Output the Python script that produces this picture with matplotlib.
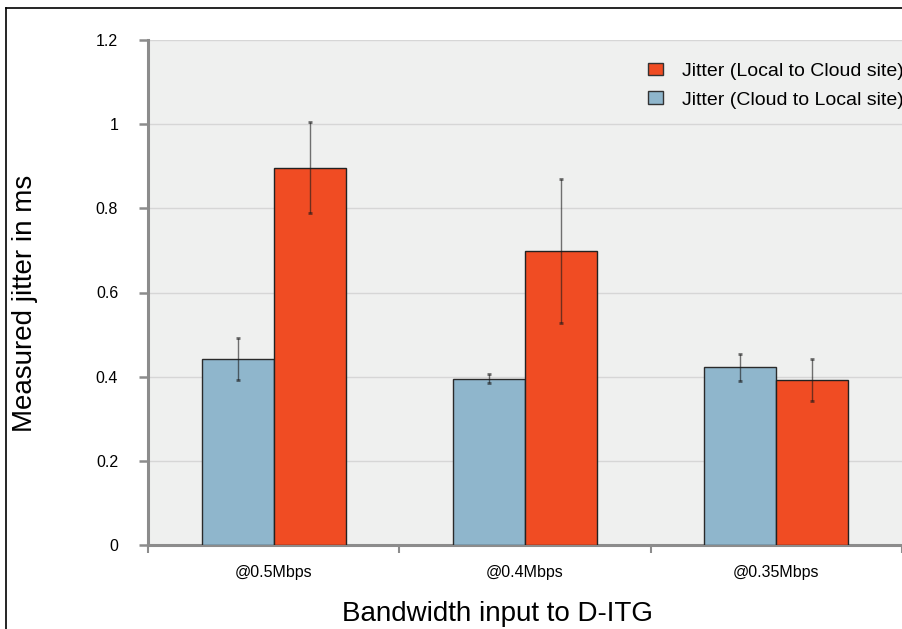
import matplotlib
matplotlib.use("Agg")
import matplotlib.pyplot as plt
from matplotlib.lines import Line2D
import numpy as np

plt.rcParams['font.family'] = ['Liberation Sans', 'DejaVu Sans']

categories = ["@0.5Mbps", "@0.4Mbps", "@0.35Mbps"]
cloud_to_local = [0.442, 0.395, 0.422]
cloud_to_local_err = [0.050, 0.011, 0.032]
local_to_cloud = [0.897, 0.699, 0.393]
local_to_cloud_err = [0.109, 0.171, 0.050]
yticks = [0, 0.2, 0.4, 0.6, 0.8, 1.0, 1.2]
ytick_labels = ["0", "0.2", "0.4", "0.6", "0.8", "1", "1.2"]

W, H = 903, 629
fig = plt.figure(figsize=(W / 100, H / 100), dpi=100)
ax = fig.add_axes([148 / W, (H - 545) / H, (902 - 148) / W, 505 / H])
ax.set_facecolor('#eff0ef')

x = np.arange(len(categories))
w = 0.2865
blue = '#8fb6cc'
red = '#f04c23'
err_kw = dict(ecolor=(0.1, 0.1, 0.1, 0.6), elinewidth=1.0, capsize=1.6, capthick=2.0)
b1 = ax.bar(x - w / 2, cloud_to_local, w, color=blue, edgecolor='#2a2a2a', linewidth=1.0,
            yerr=cloud_to_local_err, error_kw=err_kw, label='Jitter (Cloud to Local site)', zorder=3)
b2 = ax.bar(x + w / 2, local_to_cloud, w, color=red, edgecolor='#222222', linewidth=1.0,
            yerr=local_to_cloud_err, error_kw=err_kw, label='Jitter (Local to Cloud site)', zorder=3)
for bars in (b1, b2):
    for cap in bars.errorbar.lines[1]:
        cap.set_color('black')

ax.set_xlim(-0.5, len(categories) - 0.5)
ax.set_ylim(0, 1.2)
ax.set_yticks(yticks)
ax.set_yticklabels(ytick_labels)
ax.yaxis.grid(True, color='#d6d6d6', linewidth=1.0, zorder=0)
ax.set_axisbelow(True)

ax.set_xticks(np.arange(len(categories) + 1) - 0.5)
ax.set_xticklabels([])
ax.set_xticks(x, minor=True)
ax.set_xticklabels(categories, minor=True, fontsize=11.5)
ax.tick_params(axis='x', which='minor', length=0, pad=14.5)
ax.tick_params(axis='x', which='major', length=6, width=1.5, color='#8c8c8c')
ax.tick_params(axis='y', length=6.5, width=1.8, color='#8c8c8c', pad=15, labelsize=11.5)

for s in ('top', 'right'):
    ax.spines[s].set_visible(False)
for s in ('left', 'bottom'):
    ax.spines[s].set_color('#8c8c8c')
    ax.spines[s].set_linewidth(2.2)

handles = [b2, b1]
leg = ax.legend(handles=handles, labels=[h.get_label() for h in handles],
                loc='upper left', bbox_to_anchor=(632 / W, 1 - 47 / H),
                bbox_transform=fig.transFigure, frameon=False, fontsize=14,
                handlelength=0.82, handleheight=0.62, handletextpad=0.95,
                labelspacing=0.6, borderpad=0.3)
for p in leg.get_patches():
    p.set_edgecolor('#333333')
    p.set_linewidth(1.0)

fig.text(498 / W, (H - 621) / H, "Bandwidth input to D-ITG", ha='center', va='baseline', fontsize=20)
fig.text(12 / W, 1 - 303 / H, "Measured jitter in ms", rotation=90, ha='left', va='center', fontsize=20)

fig.add_artist(Line2D([6 / W, 1], [1 - 8 / H, 1 - 8 / H], transform=fig.transFigure, color='black', linewidth=1.2))
fig.add_artist(Line2D([6 / W, 6 / W], [0, 1 - 8 / H], transform=fig.transFigure, color='black', linewidth=1.2))

fig.savefig("out.png", dpi=100)
